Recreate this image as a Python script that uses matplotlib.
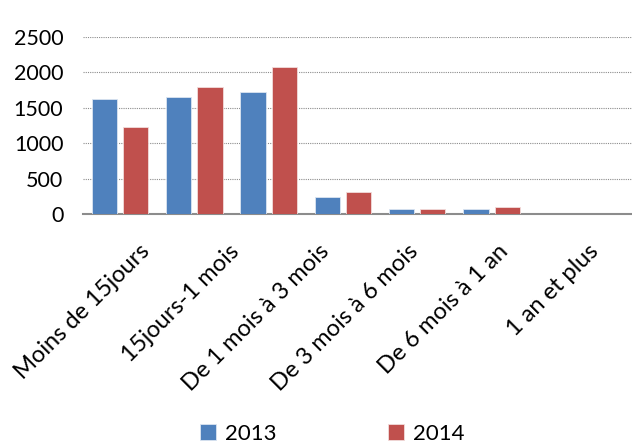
import matplotlib.pyplot as plt
import matplotlib.transforms as mtransforms
import numpy as np

plt.rcParams['font.family'] = ['Lato', 'DejaVu Sans']

categories = ['Moins de 15jours', '15jours-1 mois', 'De 1 mois à 3 mois',
              'De 3 mois à 6 mois', 'De 6 mois à 1 an', '1 an et plus']
values_2013 = [1620, 1650, 1725, 235, 75, 75]
values_2014 = [1225, 1800, 2075, 310, 75, 100]
yticks = [0, 500, 1000, 1500, 2000, 2500]

fig = plt.figure(figsize=(6.32, 4.45), dpi=100)
ax = fig.add_axes([0.131, 0.519, 0.869, 0.398])

x = np.arange(len(categories))
w = 0.34
ax.bar(x - 0.21, values_2013, w, color='#4F81BD', edgecolor='#dbe5f1', linewidth=0.6, label='2013', zorder=3)
ax.bar(x + 0.21, values_2014, w, color='#C0504D', edgecolor='#f2dcdb', linewidth=0.6, label='2014', zorder=3)

ax.set_xlim(-0.5, 6.89)
ax.set_ylim(0, 2500)
ax.set_yticks(yticks)
ax.yaxis.grid(True, linestyle=(0, (1, 1)), color='#8c8c8c', linewidth=0.8, zorder=0)
for s in ['top', 'right', 'left']:
    ax.spines[s].set_visible(False)
ax.spines['bottom'].set_color('#8c8c8c')
ax.spines['bottom'].set_linewidth(1.5)
ax.tick_params(axis='y', length=0, labelsize=15.5, pad=14)
ax.tick_params(axis='x', length=0, labelsize=17)

# the category labels in the source are spread wider than the bar groups
ax.set_xticks(0.25 + x * 1.208)
ax.set_xticklabels(categories, rotation=45, ha='right', va='top', rotation_mode='anchor')
offset = mtransforms.ScaledTranslation(0, -22 / 100, fig.dpi_scale_trans)
for lbl in ax.get_xticklabels():
    lbl.set_transform(lbl.get_transform() + offset)

fig.legend(loc='lower left', bbox_to_anchor=(0.285, -0.042), ncol=2, frameon=False,
           fontsize=16, handlelength=0.7, handleheight=0.7, handletextpad=0.4,
           columnspacing=5.05)

fig.savefig('out.png', dpi=100)
